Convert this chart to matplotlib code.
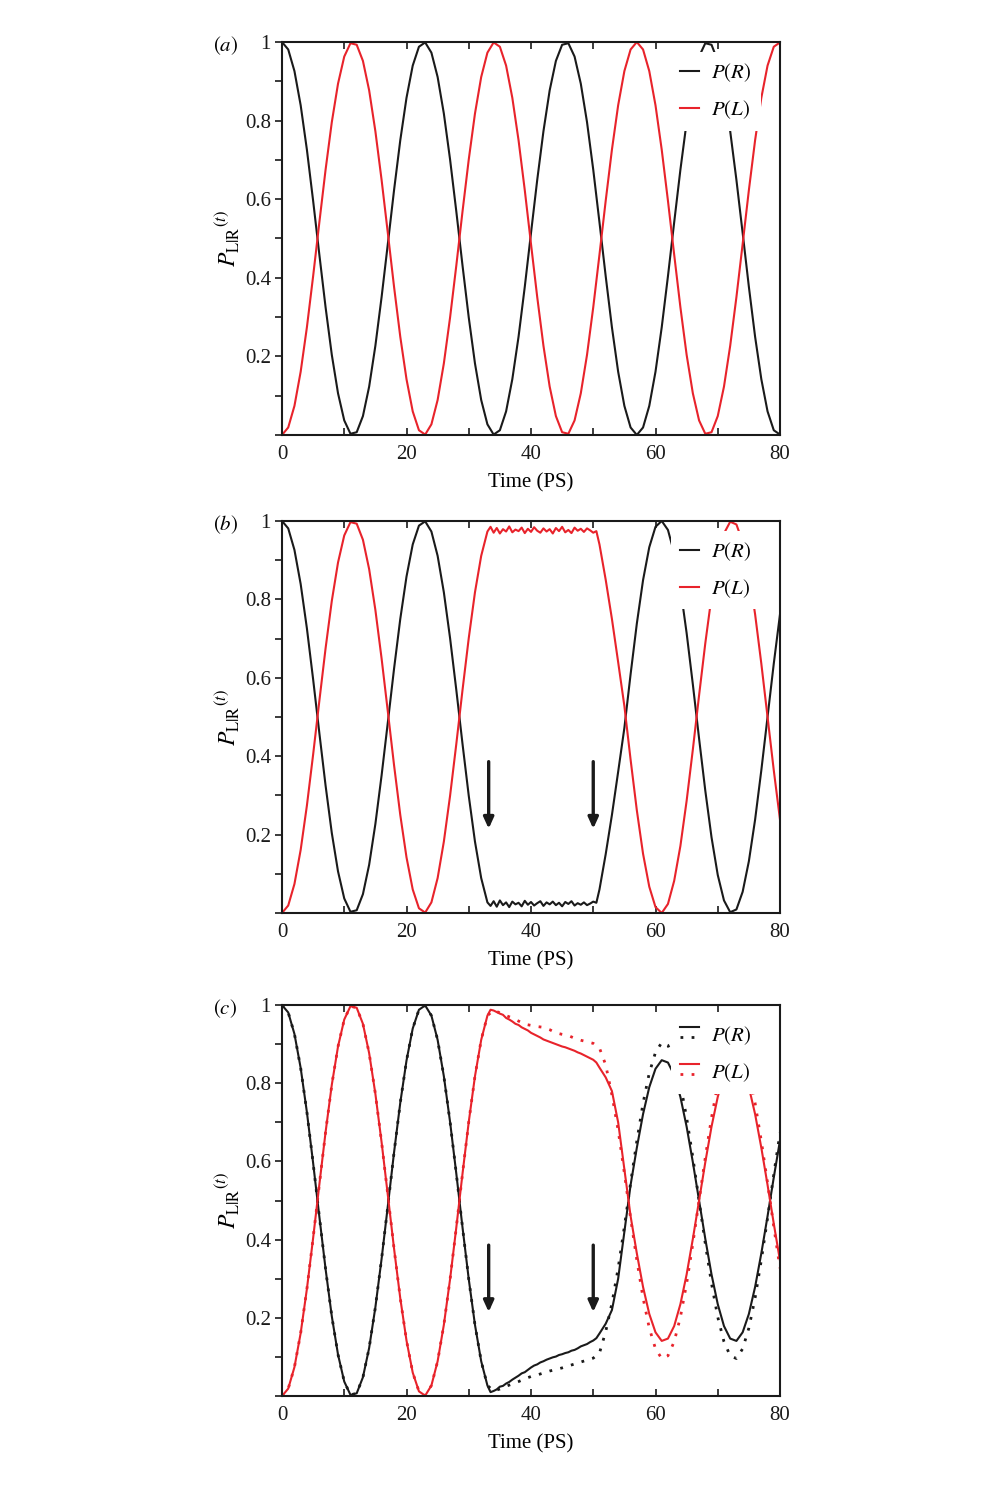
import numpy as np
import matplotlib
matplotlib.use("Agg")
import matplotlib.pyplot as plt
from matplotlib.lines import Line2D
from matplotlib.legend_handler import HandlerBase
from matplotlib.ticker import MultipleLocator, FixedLocator, FixedFormatter

plt.rcParams['font.family'] = ['Liberation Serif', 'DejaVu Serif']
plt.rcParams['mathtext.fontset'] = 'stix'

BLACK = '#1a1a1a'
RED = '#e8232b'

# time grids: integer steps, plus a finer grid over the trapped interval
t_int = np.arange(0, 81)
t_fine = np.concatenate([np.arange(0, 34), np.arange(33.5, 50.51, 0.5), np.arange(51, 81)])

# ---- panel (a)
a_R = [1.000, 0.981, 0.926, 0.839, 0.726, 0.596, 0.459, 0.325, 0.204, 0.106,
       0.037, 0.003, 0.007, 0.048, 0.123, 0.227, 0.351, 0.486, 0.623, 0.750,
       0.858, 0.940, 0.988, 0.999, 0.973, 0.911, 0.818, 0.701, 0.569, 0.431,
       0.299, 0.182, 0.089, 0.027, 0.001, 0.012, 0.060, 0.142, 0.250, 0.377,
       0.514, 0.649, 0.773, 0.877, 0.952, 0.993, 0.997, 0.963, 0.894, 0.796,
       0.675, 0.541, 0.404, 0.274, 0.161, 0.074, 0.019, 0.000, 0.019, 0.074,
       0.161, 0.274, 0.404, 0.541, 0.675, 0.796, 0.894, 0.963, 0.997, 0.993,
       0.952, 0.877, 0.773, 0.649, 0.514, 0.377, 0.250, 0.142, 0.060, 0.012,
       0.001]
a_L = [0.000, 0.019, 0.074, 0.161, 0.274, 0.404, 0.541, 0.675, 0.796, 0.894,
       0.963, 0.997, 0.993, 0.952, 0.877, 0.773, 0.649, 0.514, 0.377, 0.250,
       0.142, 0.060, 0.012, 0.001, 0.027, 0.089, 0.182, 0.299, 0.431, 0.569,
       0.701, 0.818, 0.911, 0.973, 0.999, 0.988, 0.940, 0.858, 0.750, 0.623,
       0.486, 0.351, 0.227, 0.123, 0.048, 0.007, 0.003, 0.037, 0.106, 0.204,
       0.325, 0.459, 0.596, 0.726, 0.839, 0.926, 0.981, 1.000, 0.981, 0.926,
       0.839, 0.726, 0.596, 0.459, 0.325, 0.204, 0.106, 0.037, 0.003, 0.007,
       0.048, 0.123, 0.227, 0.351, 0.486, 0.623, 0.750, 0.858, 0.940, 0.988,
       0.999]

# common start (t = 0..33) for panels (b) and (c)
start_R = [1.000, 0.981, 0.926, 0.839, 0.726, 0.596, 0.459, 0.325, 0.204, 0.106,
           0.037, 0.003, 0.007, 0.048, 0.123, 0.227, 0.351, 0.486, 0.623, 0.750,
           0.858, 0.940, 0.988, 0.999, 0.973, 0.911, 0.818, 0.701, 0.569, 0.431,
           0.299, 0.182, 0.089, 0.027]
start_L = [0.000, 0.019, 0.074, 0.161, 0.274, 0.404, 0.541, 0.675, 0.796, 0.894,
           0.963, 0.997, 0.993, 0.952, 0.877, 0.773, 0.649, 0.514, 0.377, 0.250,
           0.142, 0.060, 0.012, 0.001, 0.027, 0.089, 0.182, 0.299, 0.431, 0.569,
           0.701, 0.818, 0.911, 0.973]

# ---- panel (b)
b_R = start_R + [
    0.018, 0.030, 0.016, 0.032, 0.020, 0.027, 0.015, 0.029, 0.022, 0.026,
    0.017, 0.031, 0.021, 0.028, 0.019, 0.025, 0.030, 0.018, 0.027, 0.022,
    0.029, 0.020, 0.026, 0.017, 0.028, 0.023, 0.030, 0.019, 0.025, 0.021,
    0.027, 0.020, 0.024, 0.029, 0.026] + [
    0.060, 0.150, 0.250, 0.360, 0.472, 0.609, 0.738, 0.849, 0.933, 0.985,
    1.000, 0.977, 0.918, 0.829, 0.714, 0.583, 0.445, 0.312, 0.193, 0.097,
    0.032, 0.002, 0.009, 0.054, 0.132, 0.238, 0.364, 0.500, 0.636, 0.762]
b_L = start_L + [
    0.985, 0.970, 0.982, 0.968, 0.979, 0.973, 0.986, 0.971, 0.978, 0.974,
    0.983, 0.969, 0.980, 0.972, 0.984, 0.975, 0.970, 0.981, 0.973, 0.979,
    0.968, 0.982, 0.974, 0.985, 0.971, 0.977, 0.969, 0.983, 0.975, 0.980,
    0.972, 0.981, 0.976, 0.970, 0.974] + [
    0.940, 0.850, 0.750, 0.640, 0.528, 0.391, 0.262, 0.151, 0.067, 0.015,
    0.000, 0.023, 0.082, 0.171, 0.286, 0.417, 0.555, 0.688, 0.807, 0.903,
    0.968, 0.998, 0.991, 0.946, 0.868, 0.762, 0.636, 0.500, 0.364, 0.238]

# ---- panel (c), solid curves on the fine grid
c_R = start_R + [
    0.010, 0.013, 0.017, 0.024, 0.026, 0.032, 0.036, 0.042, 0.047, 0.052,
    0.058, 0.061, 0.067, 0.073, 0.078, 0.081, 0.086, 0.089, 0.093, 0.096,
    0.099, 0.101, 0.105, 0.107, 0.110, 0.112, 0.116, 0.118, 0.122, 0.127,
    0.130, 0.133, 0.138, 0.142, 0.148] + [
    0.160, 0.185, 0.220, 0.300, 0.420, 0.540, 0.635, 0.721, 0.790, 0.837,
    0.859, 0.853, 0.821, 0.765, 0.689, 0.598, 0.500, 0.402, 0.311, 0.235,
    0.179, 0.147, 0.141, 0.163, 0.210, 0.279, 0.365, 0.460, 0.559, 0.654]
c_L = start_L + [
    0.988, 0.986, 0.982, 0.978, 0.975, 0.967, 0.963, 0.958, 0.952, 0.949,
    0.943, 0.939, 0.935, 0.929, 0.925, 0.921, 0.917, 0.912, 0.909, 0.906,
    0.903, 0.900, 0.897, 0.894, 0.892, 0.889, 0.886, 0.883, 0.879, 0.876,
    0.872, 0.868, 0.864, 0.860, 0.853] + [
    0.840, 0.815, 0.780, 0.700, 0.580, 0.460, 0.365, 0.279, 0.210, 0.163,
    0.141, 0.147, 0.179, 0.235, 0.311, 0.402, 0.500, 0.598, 0.689, 0.765,
    0.821, 0.853, 0.859, 0.837, 0.790, 0.721, 0.635, 0.540, 0.441, 0.346]

# ---- panel (c), dotted curves on the integer grid
c_R_dot = start_R + [
    0.013, 0.018, 0.025, 0.031, 0.037, 0.044, 0.050, 0.054, 0.059, 0.064,
    0.068, 0.072, 0.077, 0.082, 0.087, 0.092, 0.097, 0.110, 0.165, 0.237,
    0.327, 0.433, 0.545, 0.652, 0.749, 0.826, 0.879, 0.904, 0.897, 0.861,
    0.798, 0.712, 0.610, 0.500, 0.390, 0.288, 0.202, 0.139, 0.103, 0.096,
    0.121, 0.174, 0.251, 0.348, 0.455, 0.567, 0.673]
c_L_dot = start_L + [
    0.987, 0.980, 0.973, 0.967, 0.959, 0.951, 0.948, 0.945, 0.943, 0.937,
    0.929, 0.925, 0.922, 0.915, 0.910, 0.906, 0.902, 0.890, 0.847, 0.770,
    0.680, 0.570, 0.455, 0.348, 0.251, 0.174, 0.121, 0.096, 0.103, 0.139,
    0.202, 0.288, 0.390, 0.500, 0.610, 0.712, 0.798, 0.861, 0.897, 0.904,
    0.879, 0.826, 0.749, 0.652, 0.545, 0.433, 0.327]

arrow_times = [33.2, 50.0]
arrow_top, arrow_tip = 0.386, 0.215

panel_letters = ['a', 'b', 'c']
y_ticks = [0.2, 0.4, 0.6, 0.8, 1.0]
y_ticklabels = ['0.2', '0.4', '0.6', '0.8', '1']


class StackedHandler(HandlerBase):
    def create_artists(self, legend, orig_handle, xdescent, ydescent,
                       width, height, fontsize, trans):
        solid, dotted = orig_handle
        x0, x1 = -xdescent, -xdescent + width
        top = Line2D([x0, x1], [0.95 * height - ydescent] * 2, color=solid.get_color(),
                     lw=1.5, transform=trans)
        bot = Line2D([x0, x1], [0.3 * height - ydescent] * 2, color=dotted.get_color(),
                     lw=2.0, linestyle=(0, (1, 3)), transform=trans)
        return [top, bot]


fig = plt.figure(figsize=(10, 14.85), dpi=100)
fig.patch.set_facecolor('white')

boxes = [[0.282, 0.7071, 0.498, 0.2646],
         [0.282, 0.3852, 0.498, 0.2640],
         [0.282, 0.0599, 0.498, 0.2633]]
axes = [fig.add_axes(b) for b in boxes]

lw = 1.5
ax = axes[0]
lr, = ax.plot(t_int, a_R, color=BLACK, lw=lw)
ll, = ax.plot(t_int, a_L, color=RED, lw=lw)
handles_a = [lr, ll]

ax = axes[1]
lr, = ax.plot(t_fine, b_R, color=BLACK, lw=lw)
ll, = ax.plot(t_fine, b_L, color=RED, lw=lw)
handles_b = [lr, ll]

ax = axes[2]
dr, = ax.plot(t_int, c_R_dot, color=BLACK, lw=2.0, linestyle=(0, (1, 3)))
dl, = ax.plot(t_int, c_L_dot, color=RED, lw=2.0, linestyle=(0, (1, 3)))
lr, = ax.plot(t_fine, c_R, color=BLACK, lw=lw)
ll, = ax.plot(t_fine, c_L, color=RED, lw=lw)
handles_c = [(lr, dr), (ll, dl)]

for i, ax in enumerate(axes):
    ax.set_xlim(0, 80)
    ax.set_ylim(0, 1)
    for s in ax.spines.values():
        s.set_linewidth(1.5)
        s.set_color(BLACK)
    ax.xaxis.set_major_locator(MultipleLocator(20))
    ax.xaxis.set_minor_locator(MultipleLocator(10))
    ax.yaxis.set_major_locator(FixedLocator(y_ticks))
    ax.yaxis.set_major_formatter(FixedFormatter(y_ticklabels))
    ax.yaxis.set_minor_locator(MultipleLocator(0.1))
    ax.tick_params(axis='x', which='both', direction='in', top=True, bottom=True,
                   length=5, width=1.2, labelsize=15, pad=7, colors=BLACK)
    ax.tick_params(axis='y', which='both', direction='out', left=True, right=False,
                   length=5, width=1.2, labelsize=15, pad=3, colors=BLACK)
    ax.set_xlabel('Time (PS)', fontsize=15)
    ax.xaxis.set_label_coords(0.5, -0.098)
    ax.set_ylabel(r'$P_{\mathrm{L|R}}{}^{(t)}$', fontsize=17)
    ax.yaxis.set_label_coords(-0.082, 0.5)
    ax.text(-0.114, 0.99, r'$(%s)$' % panel_letters[i], transform=ax.transAxes,
            ha='center', va='center', fontsize=15)

legend_kw = dict(loc='upper right', bbox_to_anchor=(0.962, 0.975), borderaxespad=0,
                 frameon=True, fancybox=False, framealpha=1, edgecolor='none',
                 facecolor='white', fontsize=15, handlelength=0.9, handletextpad=0.6,
                 labelspacing=0.7, borderpad=0.45)
labels = [r'$P(R)$', r'$P(L)$']
axes[0].legend(handles_a, labels, **legend_kw)
axes[1].legend(handles_b, labels, **legend_kw)
axes[2].legend(handles_c, labels, handler_map={tuple: StackedHandler()}, **legend_kw)

for ax in axes[1:]:
    for tx in arrow_times:
        ax.annotate('', xy=(tx, arrow_tip), xytext=(tx, arrow_top),
                    arrowprops=dict(arrowstyle='-|>,head_length=0.55,head_width=0.25',
                                    lw=2.4, color=BLACK, shrinkA=0, shrinkB=0,
                                    mutation_scale=12))

fig.savefig('out.png', dpi=100, facecolor='white')
